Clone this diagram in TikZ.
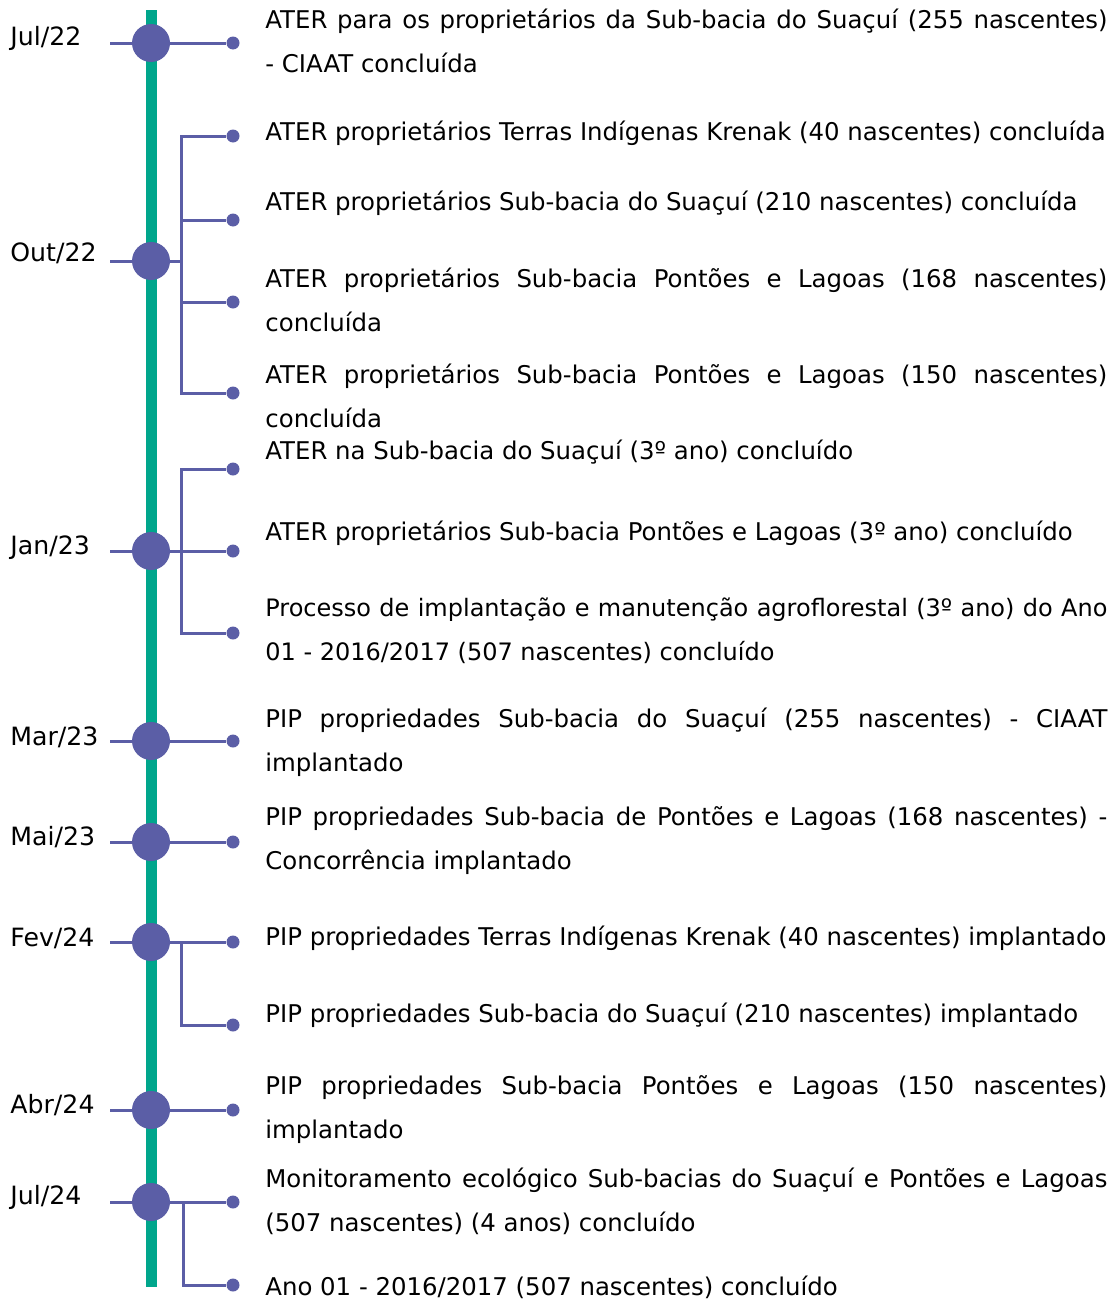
\documentclass[tikz,border=0pt]{standalone}
\usepackage{fontspec}
\setmainfont{DejaVu Sans}
\usepackage{tikz}
\usetikzlibrary{positioning}

\definecolor{linegreen}{RGB}{0,166,140}
\definecolor{markblue}{RGB}{91,94,166}

\tikzset{
    milestone/.style={circle, fill=markblue, minimum size=19pt, inner sep=0pt},
    itemdot/.style={circle, fill=markblue, minimum size=6.5pt, inner sep=0pt},
    link/.style={draw=markblue, line width=1.5pt},
    datelabel/.style={anchor=west, inner sep=0pt, font=\fontsize{12.6}{22}\selectfont},
    itemtext/.style={anchor=west, inner sep=0pt, font=\fontsize{12.2}{22}\selectfont},
    itemblock/.style={itemtext, text width=421pt, align=justify}
}

\begin{document}
\begin{tikzpicture}[x=0.5pt, y=-0.5pt]
    \useasboundingbox (0,0) rectangle (1112,1301);

    % Time axis
    \coordinate (top) at (151,10);
    \coordinate (bot) at (151,1287);
    \draw[linegreen, line width=5.5pt] (top) -- (bot);

    % Stub ends on the left
    \coordinate (s1) at (110,43);
    \coordinate (s2) at (110,261);
    \coordinate (s3) at (110,551);
    \coordinate (s4) at (110,741);
    \coordinate (s5) at (110,842);
    \coordinate (s6) at (110,942);
    \coordinate (s7) at (110,1110);
    \coordinate (s8) at (110,1202);

    % Branch points
    \coordinate (b2) at (181,261);
    \coordinate (b3) at (181,551);
    \coordinate (b6) at (181,942);
    \coordinate (b8) at (183,1202);

    % Milestones
    \node[milestone] (m1) at (151,43) {};
    \node[milestone] (m2) at (151,261) {};
    \node[milestone] (m3) at (151,551) {};
    \node[milestone] (m4) at (151,741) {};
    \node[milestone] (m5) at (151,842) {};
    \node[milestone] (m6) at (151,942) {};
    \node[milestone] (m7) at (151,1110) {};
    \node[milestone] (m8) at (151,1202) {};

    % Dates
    \node[datelabel] (d1) at (10,38) {Jul/22};
    \node[datelabel] (d2) at (10,253) {Out/22};
    \node[datelabel] (d3) at (10,548) {Jan/23};
    \node[datelabel] (d4) at (10,737) {Mar/23};
    \node[datelabel] (d5) at (10,837) {Mai/23};
    \node[datelabel] (d6) at (10,938) {Fev/24};
    \node[datelabel] (d7) at (10,1105) {Abr/24};
    \node[datelabel] (d8) at (10,1197) {Jul/24};

    % Item dots
    \node[itemdot] (a1) at (233,43) {};
    \node[itemdot] (o1) at (233,136) {};
    \node[itemdot] (o2) at (233,220) {};
    \node[itemdot] (o3) at (233,302) {};
    \node[itemdot] (o4) at (233,393) {};
    \node[itemdot] (j1) at (233,469) {};
    \node[itemdot] (j2) at (233,551) {};
    \node[itemdot] (j3) at (233,633) {};
    \node[itemdot] (r1) at (233,741) {};
    \node[itemdot] (i1) at (233,842) {};
    \node[itemdot] (f1) at (233,942) {};
    \node[itemdot] (f2) at (233,1025) {};
    \node[itemdot] (p1) at (233,1110) {};
    \node[itemdot] (l1) at (233,1202) {};
    \node[itemdot] (l2) at (233,1285) {};

    % Stubs
    \draw[link] (s1) -- (m1);
    \draw[link] (s2) -- (m2);
    \draw[link] (s3) -- (m3);
    \draw[link] (s4) -- (m4);
    \draw[link] (s5) -- (m5);
    \draw[link] (s6) -- (m6);
    \draw[link] (s7) -- (m7);
    \draw[link] (s8) -- (m8);

    % Connections to the items
    \draw[link] (m1) -- (a1);
    \draw[link] (m2) -- (b2);
    \draw[link] (o1) -| (b2) |- (o4);
    \draw[link] (o2 -| b2) -- (o2);
    \draw[link] (o3 -| b2) -- (o3);
    \draw[link] (m3) -- (j2);
    \draw[link] (j1) -| (b3) |- (j3);
    \draw[link] (m4) -- (r1);
    \draw[link] (m5) -- (i1);
    \draw[link] (m6) -- (f1);
    \draw[link] (b6) |- (f2);
    \draw[link] (m7) -- (p1);
    \draw[link] (m8) -- (l1);
    \draw[link] (b8) |- (l2);

    % Texts
    \node[itemblock] (ta1) at (265,41) {ATER para os proprietários da Sub-bacia do Suaçuí (255 nascentes)\linebreak - CIAAT concluída};
    \node[itemtext] (to1) at (265,133) {ATER proprietários Terras Indígenas Krenak (40 nascentes) concluída};
    \node[itemtext] (to2) at (265,203) {ATER proprietários Sub-bacia do Suaçuí (210 nascentes) concluída};
    \node[itemblock] (to3) at (265,300) {ATER proprietários Sub-bacia Pontões e Lagoas (168 nascentes)\linebreak concluída};
    \node[itemblock] (to4) at (265,396) {ATER proprietários Sub-bacia Pontões e Lagoas (150 nascentes)\linebreak concluída};
    \node[itemtext] (tj1) at (265,452) {ATER na Sub-bacia do Suaçuí (3º ano) concluído};
    \node[itemtext] (tj2) at (265,533) {ATER proprietários Sub-bacia Pontões e Lagoas (3º ano) concluído};
    \node[itemblock, font=\fontsize{12}{22}\selectfont] (tj3) at (265,631) {Processo de implantação e manutenção agroflorestal (3º ano) do Ano\linebreak 01 - 2016/2017 (507 nascentes) concluído};
    \node[itemblock] (tr1) at (265,742) {PIP propriedades Sub-bacia do Suaçuí (255 nascentes) - CIAAT\linebreak implantado};
    \node[itemblock] (ti1) at (265,841) {PIP propriedades Sub-bacia de Pontões e Lagoas (168 nascentes) -\linebreak Concorrência implantado};
    \node[itemtext] (tf1) at (265,938) {PIP propriedades Terras Indígenas Krenak (40 nascentes) implantado};
    \node[itemtext] (tf2) at (265,1015) {PIP propriedades Sub-bacia do Suaçuí (210 nascentes) implantado};
    \node[itemblock] (tp1) at (265,1110) {PIP propriedades Sub-bacia Pontões e Lagoas (150 nascentes)\linebreak implantado};
    \node[itemblock] (tl1) at (265,1201) {Monitoramento ecológico Sub-bacias do Suaçuí e Pontões e Lagoas\linebreak (507 nascentes) (4 anos) concluído};
    \node[itemtext] (tl2) at (265,1287) {Ano 01 - 2016/2017 (507 nascentes) concluído};
\end{tikzpicture}
\end{document}
